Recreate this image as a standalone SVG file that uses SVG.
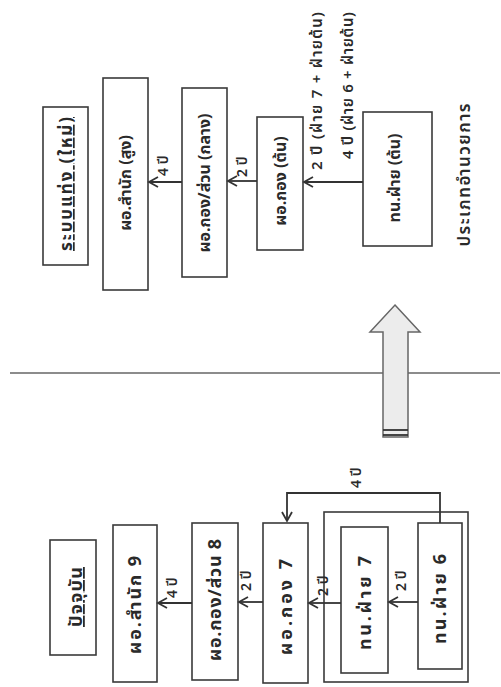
<svg xmlns="http://www.w3.org/2000/svg" width="501" height="687" viewBox="0 0 501 687">
<style>
text{font-family:"Noto Sans Thai","Noto Sans","DejaVu Sans",sans-serif;fill:#2a2a2a;}
.t{font-size:16px;font-weight:bold;text-anchor:middle;}
.b{font-size:18px;}
.n{font-weight:600;font-size:17px;}
.u{text-decoration:underline;}
.l{font-size:14px;font-weight:600;}
.s{font-size:15px;font-weight:600;}
.box{fill:none;stroke:#3a3a3a;stroke-width:1.6;}
.c{fill:none;stroke:#333;stroke-width:1.8;marker-end:url(#ah);}
</style>
<defs>
<marker id="ah" viewBox="-11 -7 13 14" refX="0" refY="0" markerWidth="13" markerHeight="14" markerUnits="userSpaceOnUse" orient="auto">
<path d="M-9,-5 L0,0 L-9,5" fill="none" stroke="#333" stroke-width="1.8"/>
</marker>
</defs>
<rect width="501" height="687" fill="#fff"/>

<!-- separator -->
<line x1="10" y1="373" x2="500" y2="373" stroke="#666" stroke-width="1.3"/>

<!-- big arrow -->
<g id="bigArrow">
<polygon points="395,305 420,332 408,332 408,437 383,437 383,332 370,332" fill="#ececec" stroke="#666" stroke-width="1.5"/>
<line x1="383" y1="430" x2="408" y2="430" stroke="#333" stroke-width="1.8"/>
<line x1="383" y1="435" x2="408" y2="435" stroke="#333" stroke-width="1.8"/>
</g>

<!-- top half: new system -->
<g id="newTitle">
<rect class="box" x="43" y="107" width="45" height="158"/>
<text class="t u" style="font-size:17px" transform="translate(72,184) rotate(-90)" textLength="134" lengthAdjust="spacing">ระบบแท่ง (ใหม่)</text>
</g>
<g id="newDirOffice">
<rect class="box" x="103" y="78" width="45" height="212"/>
<text class="t" transform="translate(131,183) rotate(-90)">ผอ.สำนัก (สูง)</text>
</g>
<g id="newDirDiv">
<rect class="box" x="182" y="88" width="45" height="189"/>
<text class="t" transform="translate(210,183) rotate(-90)">ผอ.กอง/ส่วน (กลาง)</text>
</g>
<g id="newDirDept">
<rect class="box" x="257" y="117" width="46" height="133"/>
<text class="t" transform="translate(286,181) rotate(-90)">ผอ.กอง (ต้น)</text>
</g>
<g id="newHeadSec">
<rect class="box" x="363" y="112" width="69" height="134"/>
<text class="t" transform="translate(400,178) rotate(-90)">ทน.ฝ่าย (ต้น)</text>
</g>
<g id="newCategory">
<text class="t n" transform="translate(470,175) rotate(-90)" textLength="143" lengthAdjust="spacing">ประเภทอำนวยการ</text>
</g>

<!-- bottom half: current -->
<g id="curTitle">
<rect class="box" x="50" y="540" width="46" height="115"/>
<text class="t b u" transform="translate(82,597) rotate(-90)" textLength="60" lengthAdjust="spacing">ปัจจุบัน</text>
</g>
<g id="curDirOffice">
<rect class="box" x="113" y="525" width="44" height="157"/>
<text class="t b" transform="translate(141,605) rotate(-90)" textLength="98" lengthAdjust="spacing">ผอ.สำนัก 9</text>
</g>
<g id="curDirDiv">
<rect class="box" x="192" y="523" width="46" height="157"/>
<text class="t b" transform="translate(221,600) rotate(-90)" textLength="122" lengthAdjust="spacing">ผอ.กอง/ส่วน 8</text>
</g>
<g id="curDirDept">
<rect class="box" x="263" y="523" width="45" height="160"/>
<text class="t b" transform="translate(292,607) rotate(-90)" textLength="96" lengthAdjust="spacing">ผอ.กอง 7</text>
</g>
<g id="curGroup">
<rect class="box" x="324" y="512" width="144" height="170"/>
</g>
<g id="curHead7">
<rect class="box" x="341" y="527" width="47" height="146"/>
<text class="t b" transform="translate(371,603) rotate(-90)" textLength="94" lengthAdjust="spacing">ทน.ฝ่าย 7</text>
</g>
<g id="curHead6">
<rect class="box" x="418" y="523" width="44" height="146"/>
<text class="t b" transform="translate(446,599) rotate(-90)" textLength="90" lengthAdjust="spacing">ทน.ฝ่าย 6</text>
</g>

<!-- connectors -->
<g id="connectors">
<line class="c" x1="363" y1="182" x2="304" y2="182"/>
<line class="c" x1="257" y1="181" x2="228" y2="181"/>
<line class="c" x1="182" y1="182" x2="149" y2="182"/>
<line class="c" x1="418" y1="602" x2="389" y2="602"/>
<line class="c" x1="341" y1="603" x2="309" y2="603"/>
<line class="c" x1="263" y1="602" x2="239" y2="602"/>
<line class="c" x1="192" y1="603" x2="158" y2="603"/>
<path class="c" d="M440,523 V493 H287 V521" stroke-width="2.6"/>
<text class="s" transform="translate(322,170) rotate(-90)" textLength="158" lengthAdjust="spacing">2 ปี (ฝ่าย 7 + ฝ่ายต้น)</text>
<text class="s" transform="translate(353,159) rotate(-90)" textLength="147" lengthAdjust="spacing">4 ปี (ฝ่าย 6 + ฝ่ายต้น)</text>
<text class="l" transform="translate(247,177) rotate(-90)">2 ปี</text>
<text class="l" transform="translate(168,176) rotate(-90)">4 ปี</text>
<text class="l" transform="translate(406,591) rotate(-90)">2 ปี</text>
<text class="l" transform="translate(328,596) rotate(-90)">2 ปี</text>
<text class="l" transform="translate(251,591) rotate(-90)">2 ปี</text>
<text class="l" transform="translate(177,598) rotate(-90)">4 ปี</text>
<text class="l" transform="translate(361,488) rotate(-90)">4 ปี</text>
</g>
</svg>
